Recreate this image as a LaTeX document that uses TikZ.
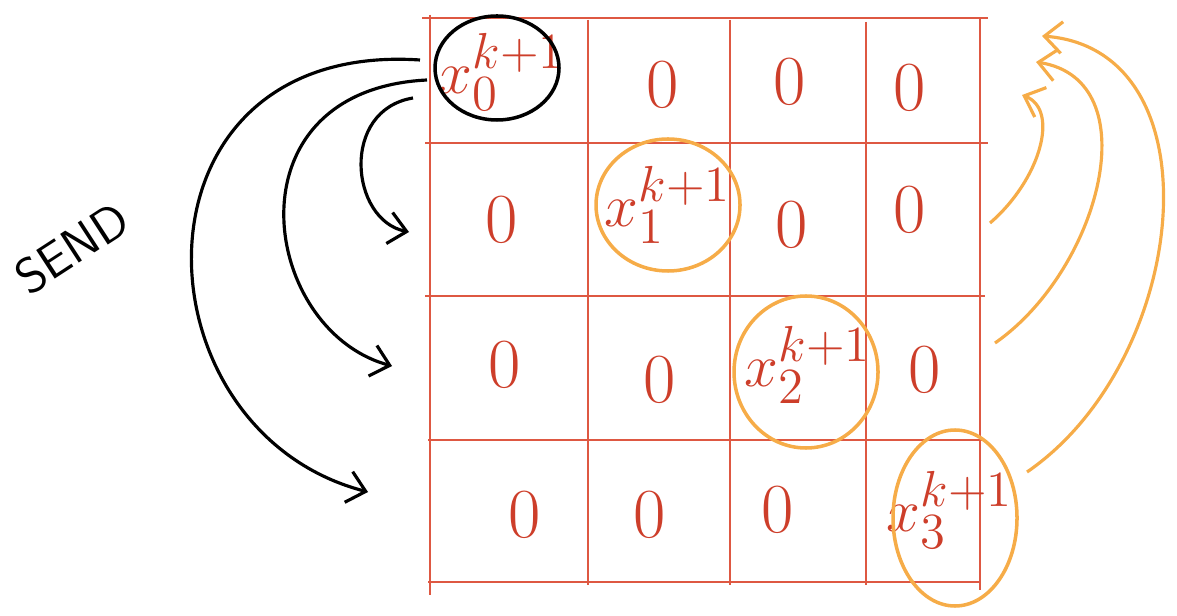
\documentclass[tikz,border=0pt]{standalone}
\usetikzlibrary{arrows.meta}
\definecolor{gridred}{RGB}{222,88,66}
\definecolor{inkred}{RGB}{205,62,42}
\definecolor{hlorange}{RGB}{246,172,72}

\begin{document}
\begin{tikzpicture}[
    x=0.01cm, y=-0.01cm,
    >={Straight Barb[length=5pt, width=9pt]},
    gridline/.style={draw=gridred, line width=0.6pt},
    entry/.style={text=inkred, font=\fontsize{20}{20}\selectfont},
    diag/.style={text=inkred, font=\fontsize{19}{19}\selectfont},
    send/.style={->, draw=black, line width=0.9pt},
    back/.style={->, draw=hlorange, line width=0.9pt}
]
\useasboundingbox (0,0) rectangle (1177,616);

% grid
\draw[gridline] (422,18) -- (988,18);
\draw[gridline] (425,143) -- (988,143);
\draw[gridline] (425,296) -- (985,296);
\draw[gridline] (428,440) -- (985,440);
\draw[gridline] (428,582) -- (980,582);
\draw[gridline] (430,15) -- (430,595);
\draw[gridline] (588,20) -- (588,585);
\draw[gridline] (730,20) -- (730,585);
\draw[gridline] (866,22) -- (866,585);
\draw[gridline] (980,18) -- (980,590);

% diagonal entries
\node[diag] (x0) at (502,72) {$x^{k+1}_{0}$};
\node[diag] (x1) at (668,205) {$x^{k+1}_{1}$};
\node[diag] (x2) at (808,365) {$x^{k+1}_{2}$};
\node[diag] (x3) at (950,510) {$x^{k+1}_{3}$};

\draw[black, line width=1pt] (497,68) ellipse [x radius=62, y radius=52];
\draw[hlorange, line width=1pt] (668,205) ellipse [x radius=72, y radius=66];
\draw[hlorange, line width=1pt] (806,372) ellipse [x radius=72, y radius=76];
\draw[hlorange, line width=1pt] (955,518) ellipse [x radius=62, y radius=88];

% zeros
\node[entry] (z01) at (663,85) {0};
\node[entry] (z02) at (790,82) {0};
\node[entry] (z03) at (910,88) {0};
\node[entry] (z10) at (502,220) {0};
\node[entry] (z12) at (792,225) {0};
\node[entry] (z13) at (910,210) {0};
\node[entry] (z20) at (505,365) {0};
\node[entry] (z21) at (660,380) {0};
\node[entry] (z23) at (925,370) {0};
\node[entry] (z30) at (525,515) {0};
\node[entry] (z31) at (650,515) {0};
\node[entry] (z32) at (778,510) {0};

\node[rotate=33, font=\sffamily\fontsize{14}{14}\selectfont] (send) at (72,248) {SEND};

% send arrows
\coordinate (s1) at (413,98);
\coordinate (s2) at (427,80);
\coordinate (s3) at (420,60);
\coordinate (r1) at (409,232);
\coordinate (r2) at (392,366);
\coordinate (r3) at (368,492);
\draw[send] (s1) .. controls (340,110) and (350,220) .. (r1);
\draw[send] (s2) .. controls (225,90) and (260,330) .. (r2);
\draw[send] (s3) .. controls (120,40) and (130,430) .. (r3);

% return arrows
\coordinate (b1) at (990,223);
\coordinate (b2) at (995,343);
\coordinate (b3) at (1027,472);
\coordinate (t1) at (1022,95);
\coordinate (t2) at (1036,62);
\coordinate (t3) at (1042,36);
\draw[back] (b1) .. controls (1040,180) and (1060,110) .. (t1);
\draw[back] (b2) .. controls (1100,270) and (1150,80) .. (t2);
\draw[back] (b3) .. controls (1190,360) and (1220,50) .. (t3);
\end{tikzpicture}
\end{document}
